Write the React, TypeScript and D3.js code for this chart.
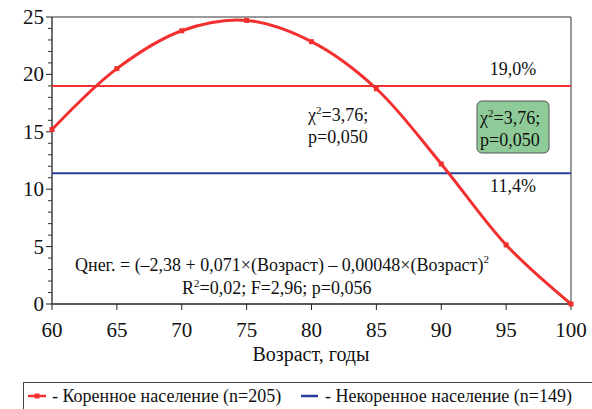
import * as d3 from "d3";

// Age in years and share (%) of the indigenous population
const ages = [60, 65, 70, 75, 80, 85, 90, 95, 100];
const shares = [15.2, 20.5, 23.8, 24.7, 22.85, 18.75, 12.2, 5.15, 0];
const xTicks = [60, 65, 70, 75, 80, 85, 90, 95, 100];
const yTicks = [0, 5, 10, 15, 20, 25];
const refLevels = [19.0, 11.4];
const refLabels = ["19,0%", "11,4%"];
const refColors = ["#f23030", "#2a3d9c"];
const legendLabels = ["- Коренное население (n=205)", "- Некоренное население (n=149)"];

const SERIF = { fontFamily: "'Times New Roman', 'Liberation Serif', serif" };
const INK = "#111";

const x = d3.scaleLinear().domain([60, 100]).range([52, 571]);
const y = d3.scaleLinear().domain([0, 25]).range([304, 17]);

export default function App() {
    const pts = ages.map((a, i) => [a, shares[i]] as [number, number]);
    const line = d3.line<[number, number]>()
        .x(d => x(d[0]))
        .y(d => y(d[1]))
        .curve(d3.curveCatmullRom);
    const minor = d3.range(0, 26).filter(v => v % 5 !== 0);

    return (
        <svg
            width={592}
            height={409}
            style={{ position: "absolute", left: 0, top: 0, background: "white" }}
        >
            {/* frame */}
            <path d={`M${x(60)},${y(25)}H${x(100)}V${y(0)}`} fill="none" stroke="#333" />

            {/* y axis */}
            <line x1={x(60)} x2={x(60)} y1={y(0)} y2={y(25)} stroke="#222" strokeWidth={1.3} />
            {yTicks.map(t => (
                <g key={"y" + t}>
                    <line x1={x(60) - 6} x2={x(60)} y1={y(t)} y2={y(t)} stroke="#222" />
                    <text x={x(60) - 8} y={y(t) + 7} textAnchor="end" fill={INK} fontSize={21} style={SERIF}>
                        {t}
                    </text>
                </g>
            ))}
            {minor.map(t => (
                <line key={"m" + t} x1={x(60) - 4} x2={x(60)} y1={y(t)} y2={y(t)} stroke="#333" />
            ))}

            {/* x axis */}
            <line x1={x(60)} x2={x(100)} y1={y(0)} y2={y(0)} stroke="#222" strokeWidth={1.3} />
            {xTicks.map(t => (
                <g key={"x" + t}>
                    <line x1={x(t)} x2={x(t)} y1={y(0)} y2={y(0) + 6} stroke="#222" />
                    <text x={x(t)} y={y(0) + 33} textAnchor="middle" fill={INK} fontSize={21} style={SERIF}>
                        {t}
                    </text>
                </g>
            ))}
            <text x={311} y={361} textAnchor="middle" fill={INK} fontSize={20} style={SERIF}>
                Возраст, годы
            </text>

            {/* reference lines */}
            {refLevels.map((v, i) => (
                <g key={"r" + i}>
                    <line x1={x(60)} x2={x(100)} y1={y(v)} y2={y(v)} stroke={refColors[i]} strokeWidth={2} />
                    <text x={513} y={y(v) + (i === 0 ? -11 : 19)} textAnchor="middle" fill={INK} fontSize={18} style={SERIF}>
                        {refLabels[i]}
                    </text>
                </g>
            ))}

            {/* curve */}
            <path d={line(pts) ?? ""} fill="none" stroke={refColors[0]} strokeWidth={3} />
            {pts.map(d => (
                <rect key={"p" + d[0]} x={x(d[0]) - 2.5} y={y(d[1]) - 2.5} width={5} height={5} fill={refColors[0]} />
            ))}

            {/* annotations */}
            <text fill={INK} fontSize={18} style={SERIF}>
                <tspan x={308} y={121}>χ</tspan>
                <tspan dy={-7} fontSize={11}>2</tspan>
                <tspan dy={7}>=3,76;</tspan>
                <tspan x={308} y={143}>p=0,050</tspan>
            </text>
            <rect x={477} y={101} width={72} height={52} rx={5} fill="#8ecb98" stroke="#555" />
            <text fill={INK} fontSize={18} style={SERIF}>
                <tspan x={480} y={124}>χ</tspan>
                <tspan dy={-7} fontSize={11}>2</tspan>
                <tspan dy={7}>=3,76;</tspan>
                <tspan x={480} y={146}>p=0,050</tspan>
            </text>
            <text fill={INK} fontSize={18} style={SERIF}>
                <tspan x={75} y={271}>Qнег. = (–2,38 + 0,071×(Возраст) – 0,00048×(Возраст)</tspan>
                <tspan dy={-8} fontSize={11}>2</tspan>
            </text>
            <text fill={INK} fontSize={18} style={SERIF}>
                <tspan x={182} y={294}>R</tspan>
                <tspan dy={-7} fontSize={11}>2</tspan>
                <tspan dy={7}>=0,02; F=2,96; p=0,056</tspan>
            </text>

            {/* legend */}
            <rect x={23.5} y={382.5} width={600} height={40} fill="white" stroke="#444" />
            <line x1={28} x2={46} y1={396} y2={396} stroke={refColors[0]} strokeWidth={2.5} />
            <rect x={34.5} y={393.5} width={5} height={5} fill={refColors[0]} />
            <text x={52} y={402} fill={INK} fontSize={18} style={SERIF}>{legendLabels[0]}</text>
            <line x1={301} x2={318} y1={396} y2={396} stroke={refColors[1]} strokeWidth={2.5} />
            <text x={325} y={402} fill={INK} fontSize={18} style={SERIF}>{legendLabels[1]}</text>
        </svg>
    );
}
